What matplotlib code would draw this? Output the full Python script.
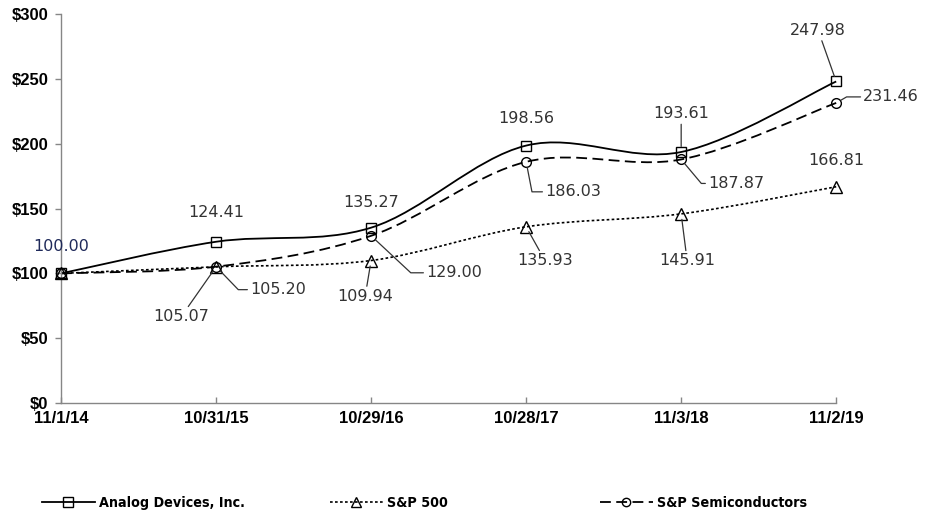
import matplotlib
matplotlib.use("Agg")
import matplotlib.pyplot as plt
from matplotlib.path import Path
from matplotlib.patches import PathPatch
from matplotlib.lines import Line2D
from matplotlib.ticker import FuncFormatter

# data
dates = ["11/1/14", "10/31/15", "10/29/16", "10/28/17", "11/3/18", "11/2/19"]
adi = [100.00, 124.41, 135.27, 198.56, 193.61, 247.98]
sp500 = [100.00, 105.07, 109.94, 135.93, 145.91, 166.81]
semis = [100.00, 105.20, 129.00, 186.03, 187.87, 231.46]
names = ["Analog Devices, Inc.", "S&P 500", "S&P Semiconductors"]


def smooth_path(xs, ys):
    # Excel-style smoothed line: cubic bezier segments through the points
    n = len(xs)
    verts = [(xs[0], ys[0])]
    codes = [Path.MOVETO]
    for i in range(n - 1):
        i0 = max(i - 1, 0)
        i3 = min(i + 2, n - 1)
        c1 = (xs[i] + (xs[i + 1] - xs[i0]) / 6, ys[i] + (ys[i + 1] - ys[i0]) / 6)
        c2 = (xs[i + 1] - (xs[i3] - xs[i]) / 6, ys[i + 1] - (ys[i3] - ys[i]) / 6)
        verts += [c1, c2, (xs[i + 1], ys[i + 1])]
        codes += [Path.CURVE4] * 3
    return Path(verts, codes)


x = list(range(len(dates)))

fig = plt.figure(figsize=(9.25, 5.29), dpi=100)
ax = fig.add_axes([0.066, 0.238, 0.838, 0.7355])

styles = [
    dict(ls="-", lw=1.3, marker="s", ms=7.5),
    dict(ls=(0, (1.6, 1.4)), lw=1.2, marker="^", ms=8),
    dict(ls=(0, (6, 3)), lw=1.3, marker="o", ms=7),
]
series = [adi, sp500, semis]

for ys, st in zip(series, styles):
    ax.add_patch(PathPatch(smooth_path(x, ys), fill=False, edgecolor="black",
                           lw=st["lw"], linestyle=st["ls"], clip_on=False))
    ax.plot(x, ys, linestyle="none", marker=st["marker"], ms=st["ms"],
            mfc="none", mec="black", mew=1.0, clip_on=False, zorder=3)

# data labels: (series, index, dx, dy in pixels, leader)
labels = [
    (0, 0, 0, 27, None), (0, 1, 0, 29, None), (0, 2, 0, 25, None),
    (0, 3, 0, 27, None), (0, 4, 0, 38, "straight"), (0, 5, -18, 51, "straight"),
    (1, 1, -35, -50, "straight"), (1, 2, -6, -36, "straight"),
    (1, 3, 19, -34, "straight"), (1, 4, 6, -47, "straight"), (1, 5, 0, 26, None),
    (2, 1, 62, -23, -46), (2, 2, 83, -37, -43), (2, 3, 47, -30, -79),
    (2, 4, 55, -24, -50), (2, 5, 55, 6, 30),
]
for s, i, dx, dy, lead in labels:
    val = series[s][i]
    color = "#1f2a5a" if (s == 0 and i == 0) else "#333333"
    kw = {}
    if lead == "straight":
        kw["arrowprops"] = dict(arrowstyle="-", color="#333333", lw=0.9,
                                shrinkA=0, shrinkB=4)
    elif lead is not None:
        kw["arrowprops"] = dict(arrowstyle="-", color="#333333", lw=0.9,
                                shrinkA=0, shrinkB=4,
                                connectionstyle="angle,angleA=0,angleB=%d,rad=0" % lead)
    ax.annotate("%.2f" % val, xy=(i, val), xytext=(dx, dy),
                textcoords="offset pixels", ha="center", va="center",
                fontsize=11.5, family="DejaVu Sans", color=color,
                annotation_clip=False, **kw)

ax.set_xlim(0, 5)
ax.set_ylim(0, 300)
ax.set_yticks(range(0, 301, 50))
ax.yaxis.set_major_formatter(FuncFormatter(lambda v, p: "$%d" % v))
ax.set_xticks(x)
ax.set_xticklabels(dates)
for lab in ax.get_xticklabels() + ax.get_yticklabels():
    lab.set_fontweight("bold")
    lab.set_fontfamily("Liberation Sans")
    lab.set_fontsize(12)
ax.tick_params(axis="y", length=4, width=1, color="#868686", pad=5)
ax.tick_params(axis="x", direction="in", length=4, width=1, color="#868686", pad=6)
for side in ["top", "right"]:
    ax.spines[side].set_visible(False)
for side in ["left", "bottom"]:
    ax.spines[side].set_color("#868686")
    ax.spines[side].set_linewidth(1.0)

# legend, one entry per block along the bottom
leg_font = dict(family="DejaVu Sans", weight="bold", size=10.3, stretch="condensed")
leg_x = [42, 330, 600]
for k in range(3):
    st = styles[k]
    h = Line2D([], [], color="black", linestyle=st["ls"], lw=st["lw"],
               marker=st["marker"], ms=st["ms"] - 1, mfc="none", mec="black")
    fig.legend([h], [names[k]], loc="center left",
               bbox_to_anchor=(leg_x[k] / 925, 1 - 503 / 529),
               frameon=False, borderpad=0, borderaxespad=0,
               handlelength=3.7, handletextpad=0.25, prop=leg_font)

fig.savefig("out.png", dpi=100)
